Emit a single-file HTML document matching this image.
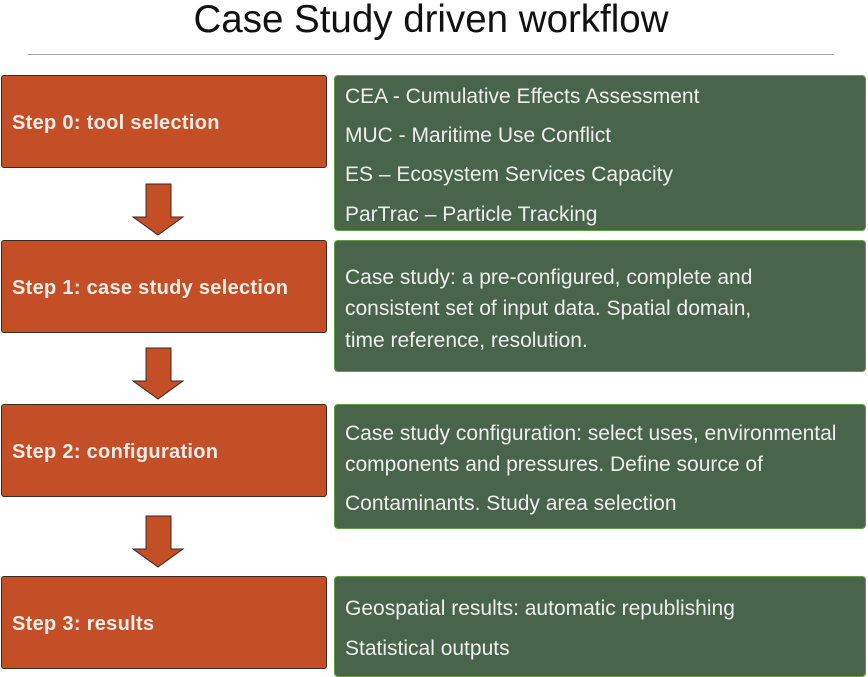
<!DOCTYPE html>
<html><head><style>
body{margin:0;width:868px;height:677px;background:#fff;position:relative;overflow:hidden;font-family:"Liberation Sans",sans-serif}
.t{position:absolute;left:0;width:862px;text-align:center;top:-2px;font-size:38.5px;color:#111}
.hr{position:absolute;left:28px;width:806px;top:54px;height:1px;background:#9aa8a4}
.o{position:absolute;left:1px;width:326px;background:#c44f27;border:1px solid #3a2a20;border-radius:3px;color:#f4ece8;font-weight:bold;font-size:20px;letter-spacing:0.3px;display:flex;align-items:center;padding-left:10px;padding-top:4px;box-sizing:border-box}
.g{position:absolute;left:334px;width:532px;background:#48644a;border:1.5px solid #5fa03c;border-radius:4px;color:#eee;font-size:21px;padding-left:10px;box-sizing:border-box}
.g div{position:absolute;left:10px;white-space:nowrap}
</style></head><body>
<div class="t">Case Study driven workflow</div>
<div class="hr"></div>
<div class="o" style="top:75px;height:93px">Step 0: tool selection</div>
<div class="o" style="top:240px;height:93px">Step 1: case study selection</div>
<div class="o" style="top:404px;height:93px">Step 2: configuration</div>
<div class="o" style="top:576px;height:93px">Step 3: results</div>
<div class="g" style="top:75px;height:156px">
<div style="top:9px">CEA - Cumulative Effects Assessment</div>
<div style="top:48px">MUC - Maritime Use Conflict</div>
<div style="top:87px">ES – Ecosystem Services Capacity</div>
<div style="top:127px">ParTrac – Particle Tracking</div></div>
<div class="g" style="top:240px;height:132px">
<div style="top:25px">Case study: a pre-configured, complete and</div>
<div style="top:56px">consistent set of input data. Spatial domain,</div>
<div style="top:88px">time reference, resolution.</div></div>
<div class="g" style="top:404px;height:125px">
<div style="top:17px">Case study configuration: select uses, environmental</div>
<div style="top:48px">components and pressures. Define source of</div>
<div style="top:87px">Contaminants. Study area selection</div></div>
<div class="g" style="top:576px;height:101px">
<div style="top:20px">Geospatial results: automatic republishing</div>
<div style="top:60px">Statistical outputs</div></div>
<svg width="868" height="677" style="position:absolute;left:0;top:0">
<g fill="#c44f27" stroke="#3a2a20" stroke-width="1">
<polygon points="146,184 171,184 171,217 183,217 158,235 133,217 146,217"/>
<polygon points="146,348 171,348 171,381 183,381 158,399 133,381 146,381"/>
<polygon points="146,516 171,516 171,549 183,549 158,567 133,549 146,549"/>
</g></svg>
</body></html>
